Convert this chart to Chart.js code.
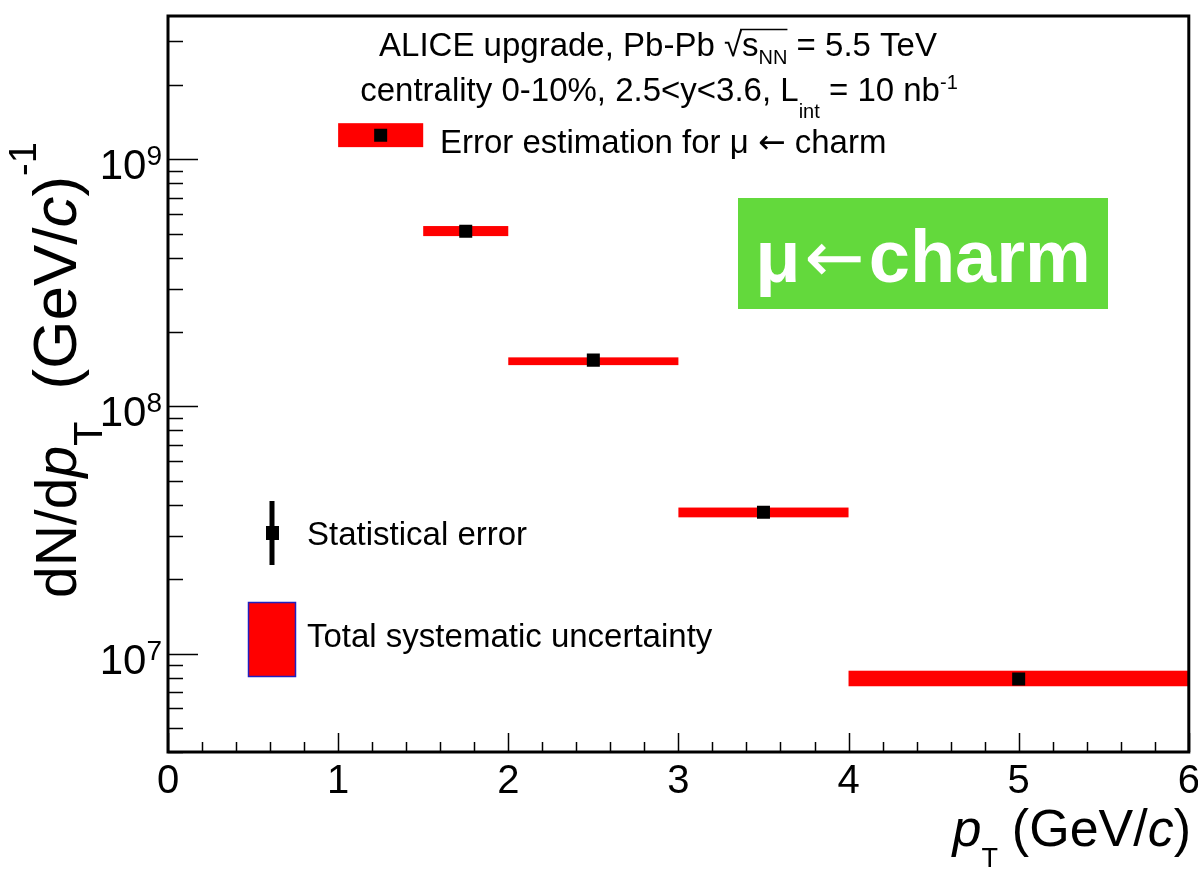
<!DOCTYPE html>
<html>
<head>
<meta charset="utf-8">
<script src="https://cdn.jsdelivr.net/npm/chart.js@4"></script>
<style>
  html, body { margin: 0; padding: 0; background: #fff; }
  canvas { display: block; }
</style>
</head>
<body>
<canvas id="chart-pt" width="1198" height="869"></canvas>
<script>
// pT bins (GeV/c)
const pt_lo = [1.0, 1.5, 2.0, 3.0, 4.0];
const pt_hi = [1.5, 2.0, 3.0, 4.0, 6.0];
const pt_mid = [1.25, 1.75, 2.5, 3.5, 5.0];
// dN/dpT of mu <- charm, with total systematic band
const yield_val = [1.25e9, 5.12e8, 1.54e8, 3.73e7, 7.9e6];
const sys_lo = [1.12e9, 4.89e8, 1.47e8, 3.56e7, 7.38e6];
const sys_hi = [1.40e9, 5.37e8, 1.58e8, 3.90e7, 8.53e6];
// axes
const x_ticks = [0, 1, 2, 3, 4, 5, 6];
const y_decades = [7, 8, 9];

const FONT = '"Liberation Sans", Arial, Helvetica, sans-serif';
const ARROW_FONT = '"DejaVu Sans", sans-serif';

function fnt(p) {
  return (p.italic ? "italic " : "") + (p.bold ? "bold " : "") + p.size + "px " + (p.family || FONT);
}

// draws a list of text pieces one after another (sub/superscripts via dy)
function drawRich(ctx, x, y, parts, align) {
  let total = 0;
  for (const p of parts) {
    ctx.font = fnt(p);
    p.w = ctx.measureText(p.t).width + (p.gap || 0);
    total += p.w;
  }
  let cx = x;
  if (align === "center") cx = x - total / 2;
  if (align === "right") cx = x - total;
  ctx.textAlign = "left";
  ctx.textBaseline = "alphabetic";
  for (const p of parts) {
    ctx.font = fnt(p);
    ctx.fillText(p.t, cx, y + (p.dy || 0));
    p.x = cx;
    cx += p.w;
  }
  return parts;
}

const rootStyle = {
  id: "rootStyle",
  beforeDatasetsDraw(chart) {
    const { ctx, scales: { x, y } } = chart;
    ctx.save();
    ctx.fillStyle = "#ff0000";
    for (let i = 0; i < pt_mid.length; i++) {
      const x0 = x.getPixelForValue(pt_lo[i]);
      const x1 = x.getPixelForValue(pt_hi[i]);
      const y0 = y.getPixelForValue(sys_hi[i]);
      const y1 = y.getPixelForValue(sys_lo[i]);
      ctx.fillRect(x0, y0, x1 - x0, y1 - y0);
    }
    ctx.restore();
  },
  afterDraw(chart) {
    const { ctx, chartArea: a, scales: { x, y } } = chart;
    ctx.save();
    ctx.strokeStyle = "#000";
    ctx.fillStyle = "#000";

    // ticks on x (inside the frame)
    ctx.lineWidth = 1.5;
    ctx.beginPath();
    for (let v = 0; v <= 6.0001; v += 0.2) {
      const px = Math.round(x.getPixelForValue(v)) + 0.5;
      const major = Math.abs(v - Math.round(v)) < 1e-6;
      ctx.moveTo(px, a.bottom);
      ctx.lineTo(px, a.bottom - (major ? 19 : 10));
    }
    // ticks on y (log)
    for (let e = 6; e <= 9; e++) {
      for (let k = 1; k <= 9; k++) {
        const v = k * Math.pow(10, e);
        if (v < y.min || v > y.max) continue;
        const py = Math.round(y.getPixelForValue(v)) + 0.5;
        ctx.moveTo(a.left, py);
        ctx.lineTo(a.left + (k === 1 ? 30 : 15), py);
      }
    }
    ctx.stroke();

    // frame
    ctx.lineWidth = 3;
    ctx.strokeRect(a.left, a.top, a.right - a.left, a.bottom - a.top);

    // x tick labels
    ctx.font = fnt({ size: 40 });
    ctx.textAlign = "center";
    ctx.textBaseline = "alphabetic";
    for (const v of x_ticks) {
      ctx.fillText(String(v), x.getPixelForValue(v), 793);
    }
    // y tick labels 10^n
    for (const e of y_decades) {
      const py = y.getPixelForValue(Math.pow(10, e));
      drawRich(ctx, 162, py + 20, [
        { t: "10", size: 42 },
        { t: String(e), size: 28, dy: -14 }
      ], "right");
    }

    // x title
    drawRich(ctx, 1191, 846, [
      { t: "p", size: 52, italic: true },
      { t: "T", size: 27, dy: 21, gap: 14 },
      { t: "(GeV/", size: 52 },
      { t: "c", size: 52, italic: true },
      { t: ")", size: 52 }
    ], "right");

    // y title, rotated
    ctx.save();
    ctx.translate(76, 598);
    ctx.rotate(-Math.PI / 2);
    drawRich(ctx, 0, 0, [
      { t: "dN/d", size: 57 },
      { t: "p", size: 57, italic: true },
      { t: "T", size: 40, dy: 26, gap: 32 },
      { t: "(GeV/", size: 62 },
      { t: "c", size: 62, italic: true },
      { t: ")", size: 62 },
      { t: "-1", size: 38, dy: -40 }
    ], "left");
    ctx.restore();

    // header lines
    const l1 = drawRich(ctx, 658, 56, [
      { t: "ALICE upgrade, Pb-Pb ", size: 33 },
      { t: "\u221A", size: 33 },
      { t: "s", size: 33 },
      { t: "NN", size: 20, dy: 8 },
      { t: " = 5.5 TeV", size: 33 }
    ], "center");
    ctx.lineWidth = 1.5;
    ctx.beginPath();
    ctx.moveTo(l1[1].x + l1[1].w - 2, 29.5);
    ctx.lineTo(l1[3].x + l1[3].w, 29.5);
    ctx.stroke();

    drawRich(ctx, 659, 101, [
      { t: "centrality 0-10%, 2.5<y<3.6, L", size: 33 },
      { t: "int", size: 20, dy: 17 },
      { t: " = 10 nb", size: 33 },
      { t: "-1", size: 20, dy: -12 }
    ], "center");

    // legend
    drawRich(ctx, 440, 153, [
      { t: "Error estimation for \u03BC ", size: 33 },
      { t: "\u2190", size: 33, family: ARROW_FONT },
      { t: " charm", size: 33 }
    ], "left");
    ctx.font = fnt({ size: 33 });
    ctx.textAlign = "left";
    ctx.fillText("Statistical error", 307, 545);
    ctx.fillText("Total systematic uncertainty", 307, 647);

    ctx.lineWidth = 5;
    ctx.beginPath();
    ctx.moveTo(272, 501);
    ctx.lineTo(272, 565);
    ctx.stroke();
    ctx.fillRect(266, 526, 13, 14);

    ctx.fillStyle = "#ff0000";
    ctx.fillRect(248, 602, 48, 75);
    ctx.strokeStyle = "#2020c0";
    ctx.lineWidth = 1.5;
    ctx.strokeRect(248.5, 602.5, 47, 74);

    // green tag
    ctx.fillStyle = "#63d93c";
    ctx.fillRect(738, 198, 370, 111);
    ctx.fillStyle = "#fff";
    drawRich(ctx, 923, 282, [
      { t: "\u03BC", size: 74, bold: true, gap: 4 },
      { t: "\u2190", size: 72, family: ARROW_FONT, gap: 4 },
      { t: "charm", size: 74, bold: true }
    ], "center");

    ctx.restore();
  }
};

const ctx = document.getElementById("chart-pt").getContext("2d");
const chart = new Chart(ctx, {
  type: "scatter",
  data: {
    datasets: [
      {
        label: "mu <- charm",
        data: pt_mid.map((v, i) => ({ x: v, y: yield_val[i] })),
        pointStyle: "rect",
        pointRadius: 9.2,
        pointHoverRadius: 9.2,
        backgroundColor: "#000",
        borderWidth: 0,
      },
    ],
  },
  options: {
    responsive: false,
    devicePixelRatio: 1,
    animation: false,
    layout: { padding: { left: 168, top: 16, right: 8, bottom: 117 } },
    plugins: {
      legend: { display: false },
      tooltip: { enabled: false },
    },
    scales: {
      x: { type: "linear", min: 0, max: 6, display: false },
      y: { type: "logarithmic", min: 4e6, max: 3.8e9, display: false },
    },
  },
  plugins: [rootStyle],
});
</script>
</body>
</html>
